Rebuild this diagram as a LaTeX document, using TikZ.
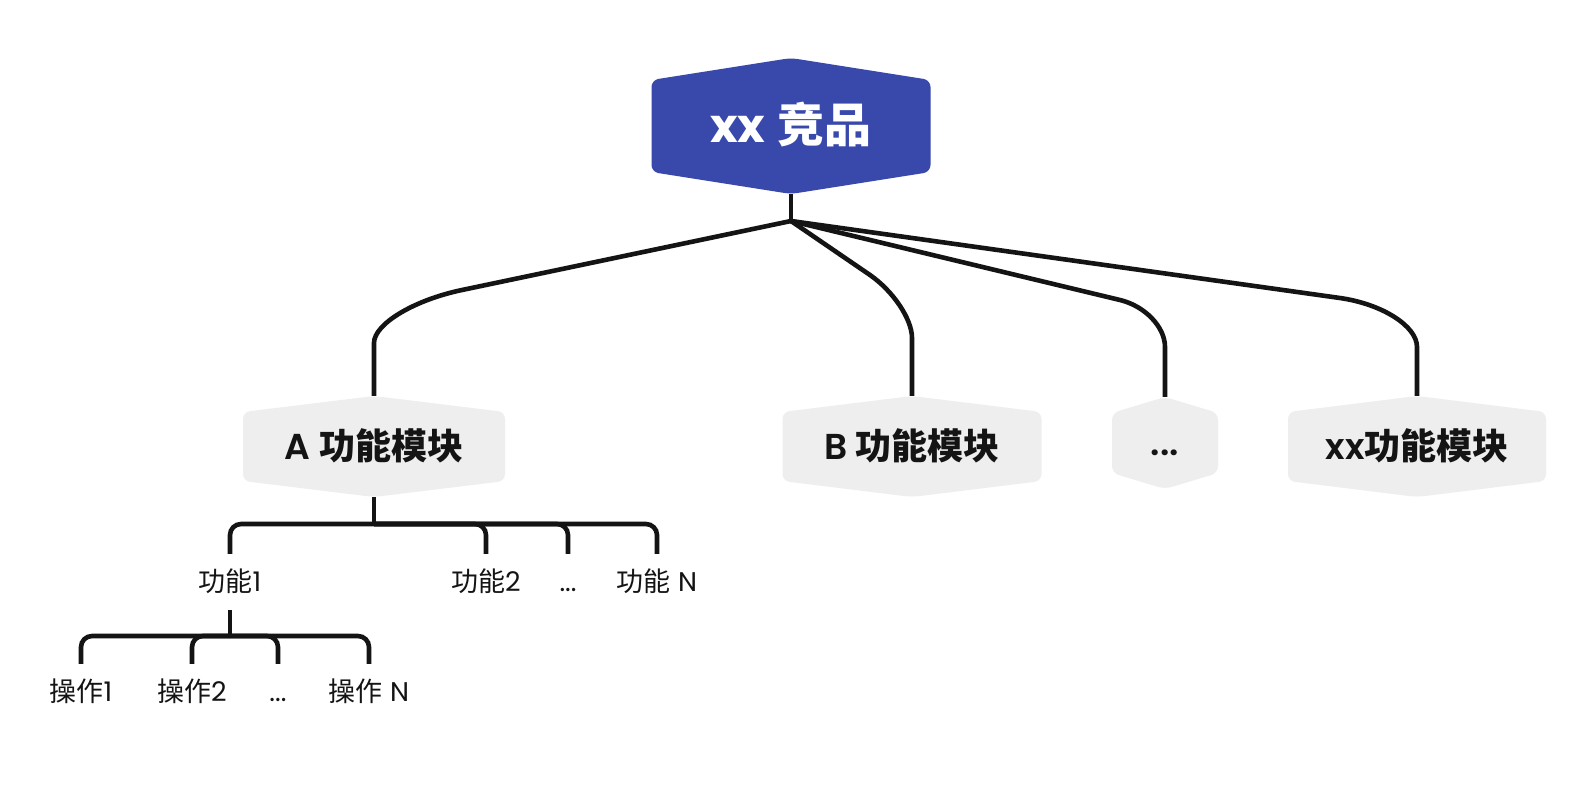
\documentclass[tikz,border=0pt]{standalone}
\usepackage{fontspec}
\setmainfont{Poppins}[BoldFont={Poppins SemiBold}]
\newfontfamily\heavy{Poppins Bold}
\newfontfamily\cjk{Noto Sans CJK SC}
\definecolor{topblue}{HTML}{3949AB}
\definecolor{modgray}{HTML}{EEEEEE}
\definecolor{linkblack}{HTML}{141414}
\tikzset{
  hexbox/.style 2 args={inner sep=0pt, fill=white, path picture={
    \fill[#1, rounded corners=7pt]
      (path picture bounding box.east)
      -- ([yshift=-#2]path picture bounding box.north east)
      -- (path picture bounding box.north)
      -- ([yshift=-#2]path picture bounding box.north west)
      -- ([yshift=#2]path picture bounding box.south west)
      -- (path picture bounding box.south)
      -- ([yshift=#2]path picture bounding box.south east)
      -- cycle;}},
  topbox/.style={hexbox={topblue}{22pt}, text=white, text height=38pt, text depth=6pt,
    font=\fontsize{47}{56}\selectfont},
  modbox/.style={hexbox={modgray}{16pt}, minimum height=101pt, text=linkblack,
    text height=29pt, text depth=4pt, font=\fontsize{36}{43}\selectfont\bfseries},
  leaf/.style={inner sep=0pt, minimum height=56pt, text=linkblack,
    text height=22pt, text depth=3pt, font=\fontsize{27}{32}\selectfont},
  link/.style={draw=linkblack, line width=4.6pt},
  branch/.style={link, rounded corners=11pt}
}
\begin{document}
\begin{tikzpicture}[x=1pt, y=-1pt]
\useasboundingbox[fill=white] (0,0) rectangle (1588,798);
% product
\node[topbox, minimum width=279pt, minimum height=136pt] (product) at (791,126) {{\heavy xx} {\bfseries\cjk 竞品}};
\coordinate (hub) at (791,221);
% modules
\node[modbox, minimum width=262pt] (moda) at (374,446.5) {A \cjk 功能模块};
\node[modbox, minimum width=259pt] (modb) at (912,446.5) {B \cjk 功能模块};
\node[modbox, minimum width=106pt, minimum height=92pt] (modmore) at (1165,443) {...};
\node[modbox, minimum width=258pt] (modxx) at (1417,446.5) {xx\cjk 功能模块};
\draw[link] (product.south) -- (hub);
\draw[link] (hub) -- (462,290) .. controls (414,300) and (374,324) .. (374,343) -- (moda.north);
\draw[link] (hub) -- (870,275) .. controls (893,291) and (912,319) .. (912,338) -- (modb.north);
\draw[link] (hub) -- (1120,300) .. controls (1145,306) and (1165,327) .. (1165,347) -- (modmore.north);
\draw[link] (hub) -- (1340,298) .. controls (1382,304) and (1417,326) .. (1417,347) -- (modxx.north);
% features of A
\node[leaf] (feat1) at (230,582) {{\cjk 功能}1};
\node[leaf] (feat2) at (486,582) {{\cjk 功能}2};
\node[leaf] (featmore) at (568,582) {...};
\node[leaf] (featn) at (657,582) {{\cjk 功能} N};
\coordinate (abar) at (374,524);
\draw[link] (moda.south) -- (abar);
\foreach \f in {feat1,feat2,featmore,featn}
  \draw[branch] (abar) -| (\f.north);
% operations of feature 1
\node[leaf] (op1) at (81,692) {{\cjk 操作}1};
\node[leaf] (op2) at (192,692) {{\cjk 操作}2};
\node[leaf] (opmore) at (278,692) {...};
\node[leaf] (opn) at (369,692) {{\cjk 操作} N};
\coordinate (fbar) at (230,636);
\draw[link] (feat1.south) -- (fbar);
\foreach \o in {op1,op2,opmore,opn}
  \draw[branch] (fbar) -| (\o.north);
\end{tikzpicture}
\end{document}
